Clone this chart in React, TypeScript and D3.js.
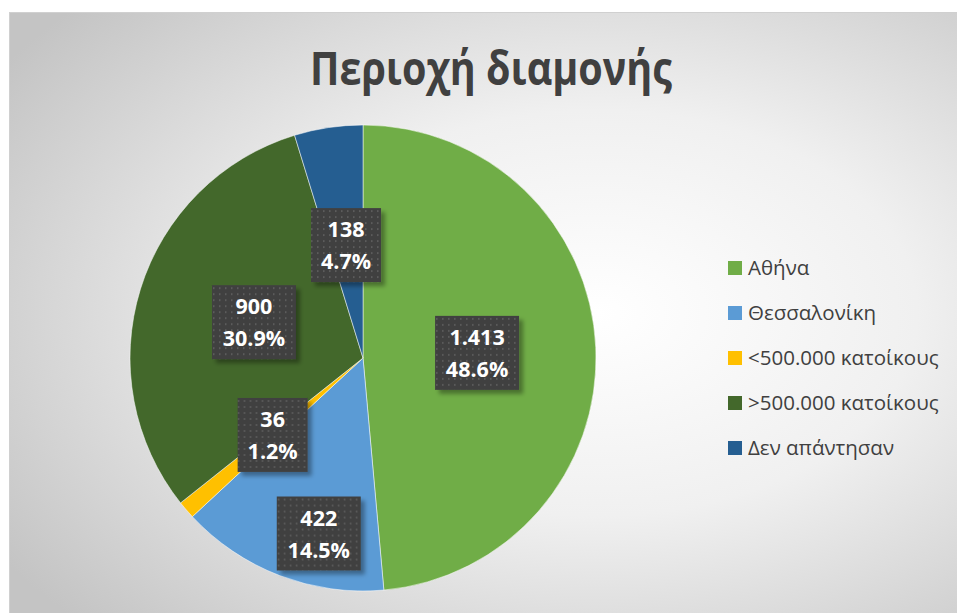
import * as d3 from 'd3';

const W = 957;
const H = 613;

const categories = ['Αθήνα', 'Θεσσαλονίκη', '<500.000 κατοίκους', '>500.000 κατοίκους', 'Δεν απάντησαν'];
const counts = [1413, 422, 36, 900, 138];
const countLabels = ['1.413', '422', '36', '900', '138'];
const colors = ['#70AD47', '#5B9BD5', '#FFC000', '#43682B', '#255E91'];
// Excel's best-fit placement: most labels sit at ~half radius, the 422 one got pushed out
const labelRadiusFactor = [0.49, 0.77, 0.5, 0.49, 0.49];
const labelNudge: [number, number][] = [[0, 0], [20, 8], [-2, 1], [0, -2], [0, 0]];

const TITLE = 'Περιοχή διαμονής';
const FONT = '"Open Sans", "Noto Sans", sans-serif';

type Row = { name: string; value: number; label: string; color: string; lr: number; nudge: [number, number] };

export default function App() {
    const rows: Row[] = categories.map((name, i) => ({
        name,
        value: counts[i],
        label: countLabels[i],
        color: colors[i],
        lr: labelRadiusFactor[i],
        nudge: labelNudge[i],
    }));
    const total = d3.sum(counts);

    const cx = 363;
    const cy = 358;
    const r = 233;

    const pie = d3
        .pie<Row>()
        .value((d) => d.value)
        .sort(null)
        .startAngle(0)
        .endAngle(2 * Math.PI);
    const arcs = pie(rows);
    const arc = d3.arc<d3.PieArcDatum<Row>>().innerRadius(0).outerRadius(r);

    const fmtPct = d3.format('.1%');

    const legendX = 728;
    const legendY = d3.scalePoint<string>().domain(categories).range([268, 448]);

    return (
        <svg
            width={W}
            height={H}
            style={{ position: 'absolute', left: 0, top: 0, display: 'block' }}
        >
            <defs>
                <radialGradient id="bg" cx="0.62" cy="0.5" r="0.75">
                    <stop offset="0" stopColor="#ffffff" />
                    <stop offset="0.45" stopColor="#f0f0f0" />
                    <stop offset="1" stopColor="#c4c4c4" />
                </radialGradient>
                <pattern id="dots" width="6" height="6" patternUnits="userSpaceOnUse">
                    <rect width="6" height="6" fill="#404040" />
                    <rect x="1" y="1" width="1.5" height="2" fill="#5c5c5c" />
                </pattern>
                <filter id="shadow" x="-20%" y="-20%" width="150%" height="150%">
                    <feDropShadow dx="4" dy="4" stdDeviation="2" floodColor="#000" floodOpacity="0.35" />
                </filter>
            </defs>

            <rect x={0} y={0} width={W} height={H} fill="#ffffff" />
            <rect x={9.5} y={12.5} width={W - 9} height={H - 12} fill="url(#bg)" stroke="#d0d0d0" />

            <text
                x={491}
                y={85}
                textAnchor="middle"
                fontFamily={FONT}
                fontWeight={700}
                fontSize={46}
                textLength={362}
                lengthAdjust="spacingAndGlyphs"
                fill="#404040"
            >
                {TITLE}
            </text>

            <g transform={`translate(${cx},${cy})`}>
                {arcs.map((a) => (
                    <path key={a.data.name} d={arc(a) ?? ''} fill={a.data.color} stroke="#ffffff" strokeWidth={0.5} />
                ))}
                {arcs.map((a) => {
                    const mid = (a.startAngle + a.endAngle) / 2;
                    const lr = r * a.data.lr;
                    const x = Math.sin(mid) * lr + a.data.nudge[0];
                    const y = -Math.cos(mid) * lr + a.data.nudge[1];
                    const pct = fmtPct(a.data.value / total);
                    const bw = Math.max(a.data.label.length, pct.length) * 14 + 14;
                    const bh = 74;
                    return (
                        <g key={`lab-${a.data.name}`} transform={`translate(${x},${y})`}>
                            <rect
                                x={-bw / 2}
                                y={-bh / 2}
                                width={bw}
                                height={bh}
                                fill="url(#dots)"
                                filter="url(#shadow)"
                            />
                            <text
                                textAnchor="middle"
                                fontFamily={FONT}
                                fontWeight={700}
                                fontSize={21.5}
                                fill="#ffffff"
                            >
                                <tspan x={0} y={-8}>
                                    {a.data.label}
                                </tspan>
                                <tspan x={0} y={24}>
                                    {pct}
                                </tspan>
                            </text>
                        </g>
                    );
                })}
            </g>

            <g>
                {rows.map((d) => (
                    <g key={`leg-${d.name}`} transform={`translate(${legendX},${legendY(d.name)})`}>
                        <rect x={0} y={-7} width={14} height={14} fill={d.color} />
                        <text x={20} y={7} fontFamily={FONT} fontSize={20.5} fill="#404040">
                            {d.name}
                        </text>
                    </g>
                ))}
            </g>
        </svg>
    );
}
